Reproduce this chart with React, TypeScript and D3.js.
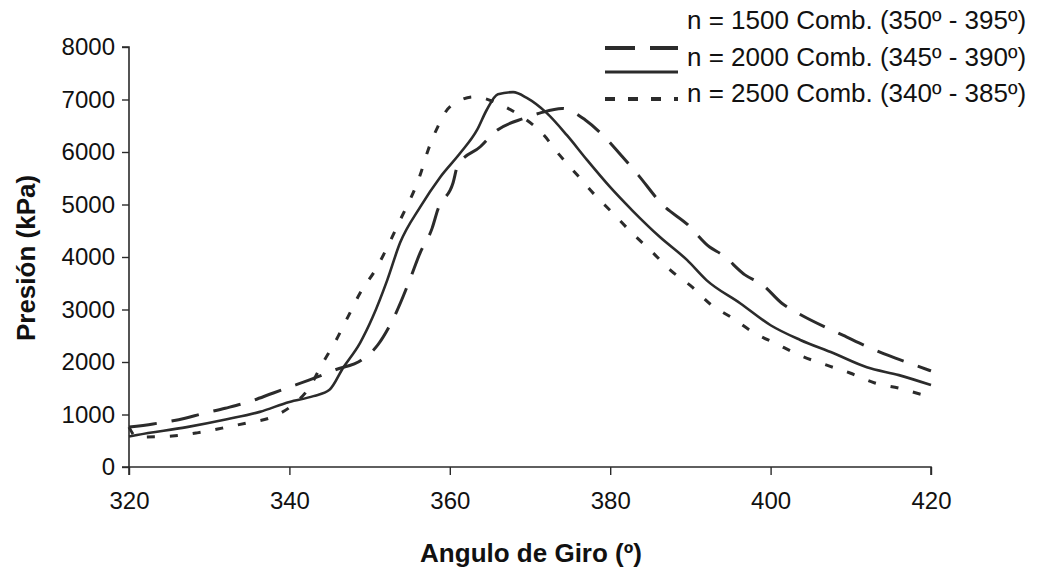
import React, { useEffect, useRef } from 'react';
import * as d3 from 'd3';

// angle (deg), pressure (kPa)
const angle1500 = [320, 323, 327, 329, 332, 334.5, 338, 340, 343.4, 345.7, 349, 351, 353, 355, 356.3, 357.8, 358.5, 360.4, 361, 363.8, 365.6, 369.4, 371.2, 374, 376.9, 379.4, 381, 383.5, 386.5, 389.7, 392.4, 394, 396.8, 399, 401.4, 403.4, 407, 409, 412.4, 414.6, 418, 420];
const p1500 = [760, 820, 930, 1010, 1120, 1220, 1410, 1520, 1710, 1850, 2040, 2320, 2840, 3560, 4080, 4550, 4900, 5410, 5750, 6100, 6380, 6650, 6740, 6830, 6610, 6270, 6000, 5560, 5000, 4610, 4190, 4040, 3660, 3470, 3120, 2930, 2650, 2510, 2270, 2130, 1940, 1830];

const angle2000 = [320, 321, 327.2, 332.2, 336.3, 340, 343, 345, 346.7, 348.8, 350.4, 352.2, 353.8, 356.3, 358.8, 361.3, 363.4, 364.6, 366, 367.9, 369.6, 372.1, 374.6, 377.1, 380, 382.8, 386.2, 389.6, 392, 396.2, 400, 403.7, 407.8, 412, 416, 420];
const p2000 = [580, 610, 760, 910, 1050, 1240, 1350, 1470, 1890, 2360, 2860, 3560, 4270, 4950, 5520, 5980, 6420, 6800, 7100, 7140, 7030, 6740, 6320, 5850, 5330, 4880, 4380, 3940, 3560, 3120, 2700, 2420, 2170, 1900, 1750, 1560];

const angle2500 = [320, 321, 325.4, 328.5, 331.6, 334.7, 337.8, 340.4, 342.6, 344, 345.7, 347.3, 348.8, 350.7, 353.8, 356.3, 357.3, 358.5, 360, 363.1, 366.3, 369, 371.5, 373.7, 375.9, 378.1, 380.3, 382.7, 385.2, 387.5, 390.2, 392.5, 395.2, 397.8, 400.8, 403.9, 407, 409.9, 413, 416.1, 419.2, 420];
const p2500 = [760, 570, 590, 650, 740, 840, 950, 1180, 1540, 1940, 2380, 2860, 3310, 3750, 4700, 5560, 6040, 6480, 6860, 7050, 6900, 6670, 6360, 5940, 5560, 5180, 4840, 4460, 4100, 3750, 3430, 3100, 2840, 2570, 2340, 2110, 1940, 1790, 1600, 1500, 1370, 1350];

const seriesNames = [
  'n = 1500 Comb. (350º - 395º)',
  'n = 2000 Comb. (345º - 390º)',
  'n = 2500 Comb. (340º - 385º)',
];
const xTicks = [320, 340, 360, 380, 400, 420];
const yTicks = [0, 1000, 2000, 3000, 4000, 5000, 6000, 7000, 8000];

export default function App() {
  const svgRef = useRef<SVGSVGElement>(null);
  const width = 1039;
  const height = 569;

  useEffect(() => {
    const svg = d3.select(svgRef.current);
    svg.selectAll('*').remove();

    const x = d3.scaleLinear().domain([320, 420]).range([129, 931]);
    const y = d3.scaleLinear().domain([0, 8000]).range([467, 47]);
    const font = '"Liberation Sans", Arial, sans-serif';
    const ink = '#2b2b2b';

    const series = [
      { xs: angle1500, ys: p1500, dash: '28,15' },
      { xs: angle2000, ys: p2000, dash: null },
      { xs: angle2500, ys: p2500, dash: '8,15' },
    ];

    const line = d3
      .line<[number, number]>()
      .x(d => x(d[0]))
      .y(d => y(d[1]))
      .curve(d3.curveMonotoneX);

    series.forEach(s => {
      const pts = s.xs.map((a, i) => [a, s.ys[i]] as [number, number]);
      svg
        .append('path')
        .attr('d', line(pts))
        .attr('fill', 'none')
        .attr('stroke', ink)
        .attr('stroke-width', s.dash ? 3 : 2.6)
        .attr('stroke-dasharray', s.dash);
    });

    // axes
    const gx = svg.append('g').attr('transform', 'translate(0,467)');
    gx.call(d3.axisBottom(x).tickValues(xTicks).tickSize(8).tickPadding(17).tickFormat(d3.format('d')));
    const gy = svg.append('g').attr('transform', 'translate(129,0)');
    gy.call(d3.axisLeft(y).tickValues(yTicks).tickSize(7).tickPadding(7).tickFormat(d3.format('d')));

    [gx, gy].forEach(g => {
      g.select('.domain').attr('stroke', ink).attr('stroke-width', 1.6);
      g.selectAll('.tick line').attr('stroke', ink).attr('stroke-width', 1.4);
      g.selectAll('.tick text')
        .attr('font-family', font)
        .attr('font-size', 24)
        .attr('fill', '#111');
    });
    gx.select('.domain').attr('d', 'M129,8V0H931V8');
    gy.select('.domain').attr('d', 'M-7,47H0V467H-7');

    svg
      .append('text')
      .attr('x', 531)
      .attr('y', 562)
      .attr('text-anchor', 'middle')
      .attr('font-family', font)
      .attr('font-size', 26)
      .attr('font-weight', 'bold')
      .attr('fill', '#111')
      .text('Angulo de Giro (º)');

    svg
      .append('text')
      .attr('transform', 'translate(35,258) rotate(-90)')
      .attr('text-anchor', 'middle')
      .attr('font-family', font)
      .attr('font-size', 26)
      .attr('font-weight', 'bold')
      .attr('fill', '#111')
      .text('Presión (kPa)');

    // legend
    const legTextY = [29, 66, 102];
    const legLineY = [48, 72, 99];
    series.forEach((s, i) => {
      svg
        .append('line')
        .attr('x1', 605)
        .attr('x2', 678)
        .attr('y1', legLineY[i])
        .attr('y2', legLineY[i])
        .attr('stroke', ink)
        .attr('stroke-width', s.dash ? 4 : 3)
        .attr('stroke-dasharray', s.dash ? (i === 0 ? '30,15' : '10,13') : null);
      svg
        .append('text')
        .attr('x', 687)
        .attr('y', legTextY[i])
        .attr('font-family', font)
        .attr('font-size', 26)
        .attr('fill', '#111')
        .text(seriesNames[i]);
    });
  }, []);

  return <svg ref={svgRef} width={width} height={height} style={{ position: 'absolute', left: 0, top: 0 }}></svg>;
}
